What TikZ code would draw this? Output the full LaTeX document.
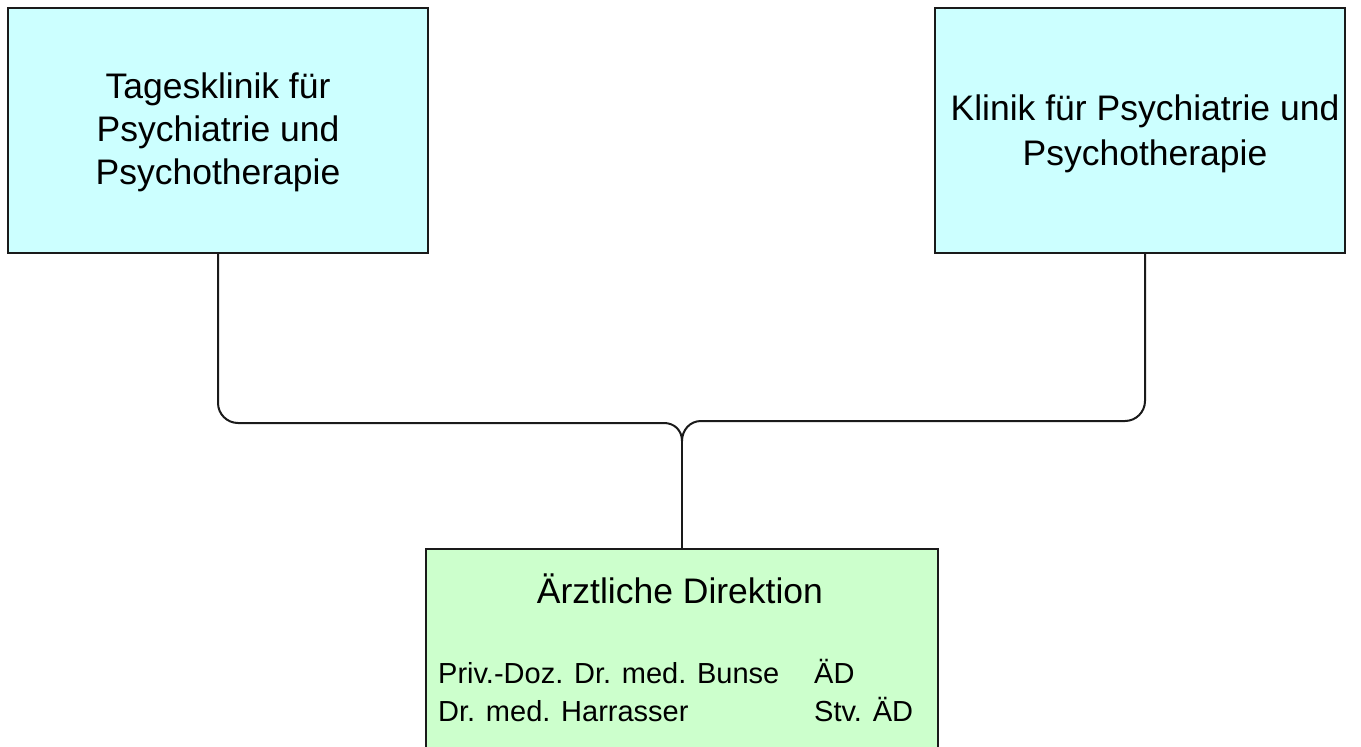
\documentclass[tikz,border=0pt]{standalone}
\usepackage{fontspec}
\setmainfont{Liberation Sans}
\definecolor{boxcyan}{HTML}{CCFFFF}
\definecolor{boxgreen}{HTML}{CCFFCC}
\definecolor{linegray}{HTML}{1A1A1A}
\tikzset{
  topbox/.style={draw=linegray, line width=2pt, fill=boxcyan, inner sep=0pt, minimum height=245pt},
  toptxt/.style={align=center, inner sep=0pt, text=black, font=\fontsize{35.5}{43}\selectfont},
  botbox/.style={draw=linegray, line width=2pt, fill=boxgreen, inner sep=0pt},
  conn/.style={draw=linegray, line width=2pt},
  txt/.style={inner sep=0pt, text=black},
  nametxt/.style={txt, anchor=base west, font=\fontsize{29}{34}\selectfont}
}
\begin{document}
\begin{tikzpicture}[x=1pt,y=-1pt]
\useasboundingbox (0,0) rectangle (1361,747);
\clip (0,0) rectangle (1361,747);
\fill[white] (0,0) rectangle (1361,747);
\node[topbox, minimum width=420pt] (tk) at (218,130.5) {};
\node[toptxt] (tkt) at ([yshift=-2pt]tk.center) {Tagesklinik für\\Psychiatrie und\\Psychotherapie};
\node[topbox, minimum width=410pt] (kp) at (1140,130.5) {};
\node[toptxt, font=\fontsize{35.5}{45}\selectfont] (kpt) at ([xshift=5pt,yshift=-3pt]kp.center) {Klinik für Psychiatrie und\\Psychotherapie};
\node[botbox, minimum width=512pt, minimum height=300pt] (ad) at (682,699) {};
\node[txt, anchor=base, font=\fontsize{35.5}{42}\selectfont] (title) at (680,603) {Ärztliche Direktion};
\node[nametxt] (n1) at (438,683) {Priv.-Doz. Dr. med. Bunse};
\node[nametxt] (r1) at (814,683) {ÄD};
\node[nametxt] (n2) at (438,721) {Dr. med. Harrasser};
\node[nametxt] (r2) at (814,721) {Stv. ÄD};
\coordinate (j) at (682,441);
\draw[conn] (tk.south) -- (218,403) .. controls (218,414) and (227,423) .. (238,423)
  -- (664,423) .. controls (674,423) and (682,430) .. (j);
\draw[conn] ([xshift=5pt]kp.south) -- (1145,401) .. controls (1145,412) and (1136,421) .. (1125,421)
  -- (701,421) .. controls (690,421) and (682,430) .. (j);
\draw[conn] (j) -- (ad.north);
\end{tikzpicture}
\end{document}
